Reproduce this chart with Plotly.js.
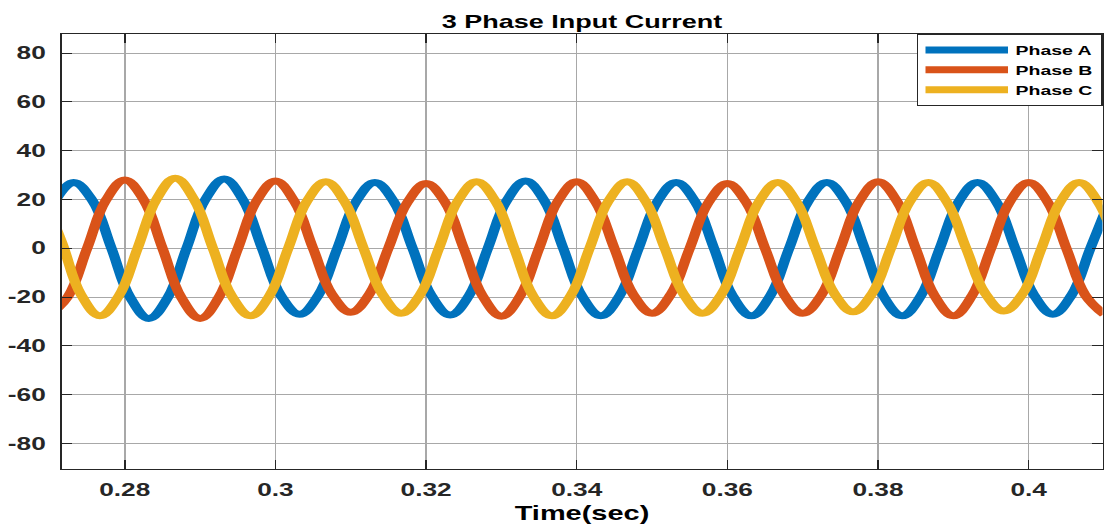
<!DOCTYPE html>
<html>
<head>
<meta charset="utf-8">
<script src="https://cdn.plot.ly/plotly-3.0.1.min.js"></script>
<style>
  html, body { margin: 0; padding: 0; background: #fff; overflow: hidden; }
  #chart { width: 736px; height: 528px; transform: scaleX(1.5); transform-origin: 0 0; }
</style>
</head>
<body>
<div id="chart"></div>
<script>
// Values (time in s, current in A)
const seriesNames = ['Phase A', 'Phase B', 'Phase C'];

const timeA = [0.2707, 0.2732, 0.2757, 0.2782, 0.2807, 0.2832, 0.2857, 0.2882, 0.2907, 0.2932,
  0.2957, 0.2982, 0.3007, 0.3032, 0.3057, 0.3082, 0.3107, 0.3132, 0.3157, 0.3182,
  0.3207, 0.3232, 0.3257, 0.3282, 0.3307, 0.3332, 0.3357, 0.3382, 0.3407, 0.3432,
  0.3457, 0.3482, 0.3507, 0.3532, 0.3557, 0.3582, 0.3607, 0.3632, 0.3657, 0.3682,
  0.3707, 0.3732, 0.3757, 0.3782, 0.3807, 0.3832, 0.3857, 0.3882, 0.3907, 0.3932,
  0.3957, 0.3982, 0.4007, 0.4032, 0.4057, 0.4082, 0.4107];
const currentA = [19.1, 27.0, 19.6, 0.3, -20.0, -28.7, -20.2, 0.0, 20.0, 28.4,
  19.8, 0.2, -19.2, -27.0, -19.2, -0.2, 19.1, 27.0, 19.2, 0.1,
  -19.3, -27.3, -19.4, 0.0, 19.5, 27.6, 19.5, 0.1, -19.5, -27.6,
  -19.4, -0.1, 19.1, 27.0, 19.2, 0.2, -19.5, -27.6, -19.4, 0.0,
  19.1, 27.0, 19.2, 0.1, -19.5, -27.6, -19.4, 0.0, 19.1, 27.0,
  19.1, 0.0, -19.1, -27.0, -19.1, 0.1, 19.2];

const timeB = [0.2700, 0.2725, 0.2750, 0.2775, 0.2800, 0.2825, 0.2850, 0.2875, 0.2900, 0.2925,
  0.2950, 0.2975, 0.3000, 0.3025, 0.3050, 0.3075, 0.3100, 0.3125, 0.3150, 0.3175,
  0.3200, 0.3225, 0.3250, 0.3275, 0.3300, 0.3325, 0.3350, 0.3375, 0.3400, 0.3425,
  0.3450, 0.3475, 0.3500, 0.3525, 0.3550, 0.3575, 0.3600, 0.3625, 0.3650, 0.3675,
  0.3700, 0.3725, 0.3750, 0.3775, 0.3800, 0.3825, 0.3850, 0.3875, 0.3900, 0.3925,
  0.3950, 0.3975, 0.4000, 0.4025, 0.4050, 0.4075, 0.4100];
const currentB = [-27.5, -19.6, 0.0, 19.7, 28.0, 19.9, 0.1, -20.1, -28.7, -20.0,
  -0.2, 19.4, 27.6, 19.3, 0.0, -18.8, -26.2, -18.6, 0.1, 18.7,
  26.6, 19.0, 0.0, -19.5, -27.8, -19.5, 0.0, 19.3, 27.3, 19.0,
  0.0, -18.9, -26.6, -18.8, 0.0, 18.8, 26.6, 18.8, 0.0, -18.8,
  -26.6, -19.0, 0.0, 19.2, 27.3, 19.4, 0.0, -19.4, -27.6, -19.3,
  0.0, 19.1, 27.0, 19.1, 0.0, -19.1, -27.0];

const timeC = [0.2692, 0.2717, 0.2742, 0.2767, 0.2792, 0.2817, 0.2842, 0.2867, 0.2892, 0.2917,
  0.2942, 0.2967, 0.2992, 0.3017, 0.3042, 0.3067, 0.3092, 0.3117, 0.3142, 0.3167,
  0.3192, 0.3217, 0.3242, 0.3267, 0.3292, 0.3317, 0.3342, 0.3367, 0.3392, 0.3417,
  0.3442, 0.3467, 0.3492, 0.3517, 0.3542, 0.3567, 0.3592, 0.3617, 0.3642, 0.3667,
  0.3692, 0.3717, 0.3742, 0.3767, 0.3792, 0.3817, 0.3842, 0.3867, 0.3892, 0.3917,
  0.3942, 0.3967, 0.3992, 0.4017, 0.4042, 0.4067, 0.4092, 0.4117];
const currentC = [21.0, 2.0, -19.0, -27.6, -19.6, 0.0, 20.0, 28.7, 20.0, 0.0,
  -19.5, -27.6, -19.5, 0.0, 19.4, 27.3, 19.0, 0.0, -18.8, -26.6,
  -19.0, 0.0, 19.3, 27.3, 19.4, 0.0, -19.5, -27.6, -19.4, 0.0,
  19.3, 27.3, 19.0, 0.0, -18.8, -26.6, -18.9, 0.0, 19.1, 27.0,
  18.9, 0.0, -18.5, -26.0, -18.6, 0.0, 19.0, 27.0, 18.7, 0.0,
  -18.3, -25.7, -18.6, 0.0, 19.1, 27.0, 19.1, 0.0];

const xTickVals = [0.28, 0.30, 0.32, 0.34, 0.36, 0.38, 0.40];
const xTickText = ['0.28', '0.3', '0.32', '0.34', '0.36', '0.38', '0.4'];
const yTickVals = [-80, -60, -40, -20, 0, 20, 40, 60, 80];
const yTickText = ['-80', '-60', '-40', '-20', '0', '20', '40', '60', '80'];

const colors = ['#0072BD', '#D95319', '#EDB120'];
const FONT = 'Liberation Sans, Arial, Helvetica, sans-serif';

const xs = [timeA, timeB, timeC];
const ys = [currentA, currentB, currentC];
const traces = seriesNames.map((n, i) => ({
  type: 'scatter',
  mode: 'lines',
  name: n,
  x: xs[i],
  y: ys[i],
  line: { color: colors[i], width: 7, shape: 'spline', smoothing: 1.15 }
}));

const axisCommon = {
  showline: true, linecolor: '#262626', linewidth: 1, mirror: 'ticks',
  ticks: 'inside', tickcolor: '#262626', tickwidth: 1,
  showgrid: true, gridcolor: '#a8a8a8', gridwidth: 1, zeroline: false,
  tickfont: { family: FONT, size: 17.5, weight: 'bold', color: '#262626' }
};

const layout = {
  width: 736, height: 528,
  margin: { l: 41, r: 1, t: 34, b: 59, pad: 0 },
  paper_bgcolor: '#ffffff', plot_bgcolor: '#ffffff',
  showlegend: true,
  title: {
    text: '3 Phase Input Current',
    font: { family: FONT, size: 18, weight: 'bold', color: '#000000' },
    x: 0.5, xref: 'paper', xanchor: 'center',
    y: 1 - 21.5 / 528, yref: 'container', yanchor: 'middle'
  },
  xaxis: Object.assign({}, axisCommon, {
    range: [0.2716, 0.4098],
    tickmode: 'array', tickvals: xTickVals, ticktext: xTickText,
    ticklen: 9, ticklabelstandoff: 5,
    title: { text: 'Time(sec)', standoff: 7,
      font: { family: FONT, size: 19.3, weight: 'bold', color: '#000000' } }
  }),
  yaxis: Object.assign({}, axisCommon, {
    range: [-90.4, 87.8],
    tickmode: 'array', tickvals: yTickVals, ticktext: yTickText,
    ticklen: 6.7, ticklabelstandoff: 6
  }),
  legend: {
    x: 1, xanchor: 'right', y: 1, yanchor: 'top',
    bgcolor: '#ffffff', bordercolor: '#262626', borderwidth: 1,
    font: { family: FONT, size: 13, weight: 'bold', color: '#000000' },
    itemwidth: 55, tracegroupgap: 0
  }
};

Plotly.newPlot('chart', traces, layout, { displayModeBar: false, staticPlot: true });
</script>
</body>
</html>
